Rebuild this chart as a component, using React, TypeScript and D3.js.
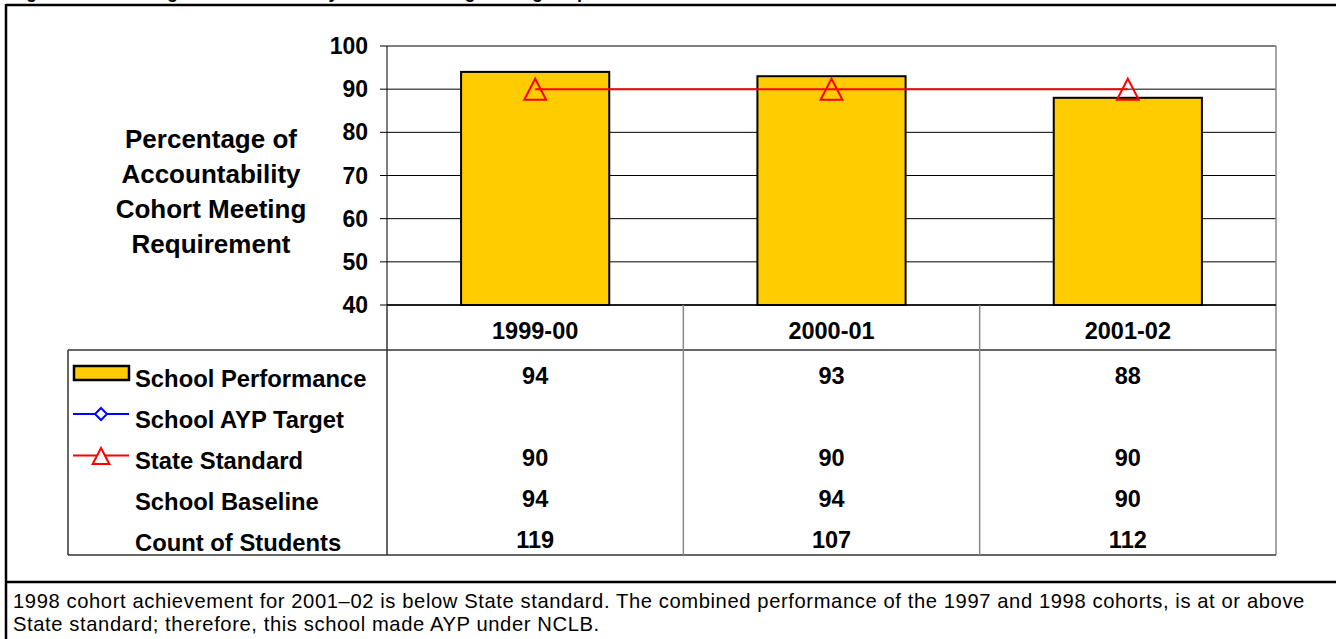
import React from 'react';
import * as d3 from 'd3';

const years = ['1999-00', '2000-01', '2001-02'];
const schoolPerformance = [94, 93, 88];
const stateStandard = [90, 90, 90];
const schoolBaseline = [94, 94, 90];
const studentCount = [119, 107, 112];
const yTicks = [40, 50, 60, 70, 80, 90, 100];
const yTitle = ['Percentage of', 'Accountability', 'Cohort Meeting', 'Requirement'];
const note = [
  '1998 cohort achievement for 2001\u201302 is below State standard. The combined performance of the 1997 and 1998 cohorts, is at or above',
  'State standard; therefore, this school made AYP under NCLB.',
];

const W = 1336;
const H = 639;
const FONT = 'Liberation Sans, Arial, sans-serif';
const GOLD = '#FFCC00';

const App: React.FC = () => {
  const left = 387;
  const right = 1276;
  const top = 46;
  const bottom = 305;

  const y = d3.scaleLinear().domain([40, 100]).range([bottom, top]);
  const x = d3.scaleBand<string>().domain(years).range([left, right]).paddingInner(0.5).paddingOuter(0.25);
  const cx = (d: string) => (x(d) as number) + x.bandwidth() / 2;
  const step = x.step();

  // table geometry
  const headerBottom = 350;
  const tableBottom = 555;
  const legendLeft = 68;
  const rowY = d3.scaleLinear().domain([0, 4]).range([379, 543]);

  const line = d3
    .line<number>()
    .x((_, i) => cx(years[i]))
    .y((d) => y(d));

  const tri = (px: number, py: number, s: number) =>
    `M${px},${py - s * 0.5}L${px + s * 0.52},${py + s * 0.5}L${px - s * 0.52},${py + s * 0.5}Z`;

  const rows = [
    { label: 'School Performance', values: schoolPerformance as (number | null)[] },
    { label: 'School AYP Target', values: [null, null, null] as (number | null)[] },
    { label: 'State Standard', values: stateStandard as (number | null)[] },
    { label: 'School Baseline', values: schoolBaseline as (number | null)[] },
    { label: 'Count of Students', values: studentCount as (number | null)[] },
  ];

  return (
    <svg width={W} height={H} style={{ position: 'absolute', left: 0, top: 0 }} fontFamily={FONT}>
      <rect width={W} height={H} fill="#fff" />
      {/* figure title, mostly above the visible frame */}
      <text x={10} y={-2} fontSize={18} fontWeight="bold">
        Figure 9: Percentage of Accountability Cohort Meeting Testing Requirement
      </text>

      {/* outer frame */}
      <line x1={6} x2={W} y1={5} y2={5} stroke="#000" strokeWidth={2.5} />
      <line x1={6} x2={6} y1={4} y2={H} stroke="#000" strokeWidth={2.5} />
      <line x1={6} x2={W} y1={582} y2={582} stroke="#000" strokeWidth={2.5} />

      {/* gridlines and ticks */}
      {yTicks.map((t) => (
        <g key={t}>
          <line x1={380} x2={right} y1={y(t)} y2={y(t)} stroke="#000" strokeWidth={1} />
          <text x={368} y={y(t) + 8} textAnchor="end" fontSize={23} fontWeight="bold">
            {t}
          </text>
        </g>
      ))}
      <line x1={left} x2={left} y1={top} y2={bottom} stroke="#000" strokeWidth={1} />
      <line x1={right} x2={right} y1={top} y2={tableBottom} stroke="#888" strokeWidth={1.5} />

      {/* y axis title */}
      {yTitle.map((s, i) => (
        <text key={s} x={211} y={148 + i * 35} textAnchor="middle" fontSize={26} fontWeight="bold">
          {s}
        </text>
      ))}

      {/* bars */}
      {years.map((d, i) => (
        <rect
          key={d}
          x={x(d)}
          y={y(schoolPerformance[i])}
          width={x.bandwidth()}
          height={y(40) - y(schoolPerformance[i])}
          fill={GOLD}
          stroke="#000"
          strokeWidth={2}
        />
      ))}

      {/* state standard line */}
      <path d={line(stateStandard) as string} fill="none" stroke="#FF0000" strokeWidth={2} />
      {years.map((d, i) => (
        <path key={d} d={tri(cx(d), y(stateStandard[i]), 21)} fill="none" stroke="#FF0000" strokeWidth={2} />
      ))}

      {/* data table */}
      <line x1={left} x2={right} y1={bottom} y2={bottom} stroke="#000" strokeWidth={1.5} />
      <line x1={legendLeft} x2={right} y1={headerBottom} y2={headerBottom} stroke="#333" strokeWidth={1.5} />
      <line x1={legendLeft} x2={right} y1={tableBottom} y2={tableBottom} stroke="#333" strokeWidth={1.5} />
      <line x1={legendLeft} x2={legendLeft} y1={headerBottom} y2={tableBottom} stroke="#333" strokeWidth={1.5} />
      <line x1={left} x2={left} y1={bottom} y2={tableBottom} stroke="#333" strokeWidth={1.5} />
      {years.slice(1).map((d) => (
        <line key={d} x1={cx(d) - step / 2} x2={cx(d) - step / 2} y1={bottom} y2={tableBottom} stroke="#888" strokeWidth={1.5} />
      ))}
      {years.map((d) => (
        <text key={d} x={cx(d)} y={339} textAnchor="middle" fontSize={23.5} fontWeight="bold">
          {d}
        </text>
      ))}

      {rows.map((r, ri) => (
        <g key={r.label}>
          <text x={135} y={rowY(ri) + 8} fontSize={23.8} fontWeight="bold">
            {r.label}
          </text>
          {r.values.map((v, i) =>
            v == null ? null : (
              <text key={i} x={cx(years[i])} y={rowY(ri) + 5} textAnchor="middle" fontSize={23.5} fontWeight="bold">
                {v}
              </text>
            ),
          )}
        </g>
      ))}

      {/* legend keys */}
      <rect x={74} y={366} width={55} height={14} fill={GOLD} stroke="#000" strokeWidth={2.5} />
      <line x1={73} x2={129} y1={414} y2={414} stroke="#0000FF" strokeWidth={2} />
      <path d="M101,408L107,414L101,420L95,414Z" fill="#fff" stroke="#0000FF" strokeWidth={2} />
      <line x1={73} x2={129} y1={455.5} y2={455.5} stroke="#FF0000" strokeWidth={2} />
      <path d={tri(101, 456, 16)} fill="#fff" stroke="#FF0000" strokeWidth={2} />

      {/* note */}
      {note.map((s, i) => (
        <text key={i} x={13} y={608 + i * 23} fontSize={20.2} letterSpacing={0.6}>
          {s}
        </text>
      ))}
    </svg>
  );
};

export default App;
